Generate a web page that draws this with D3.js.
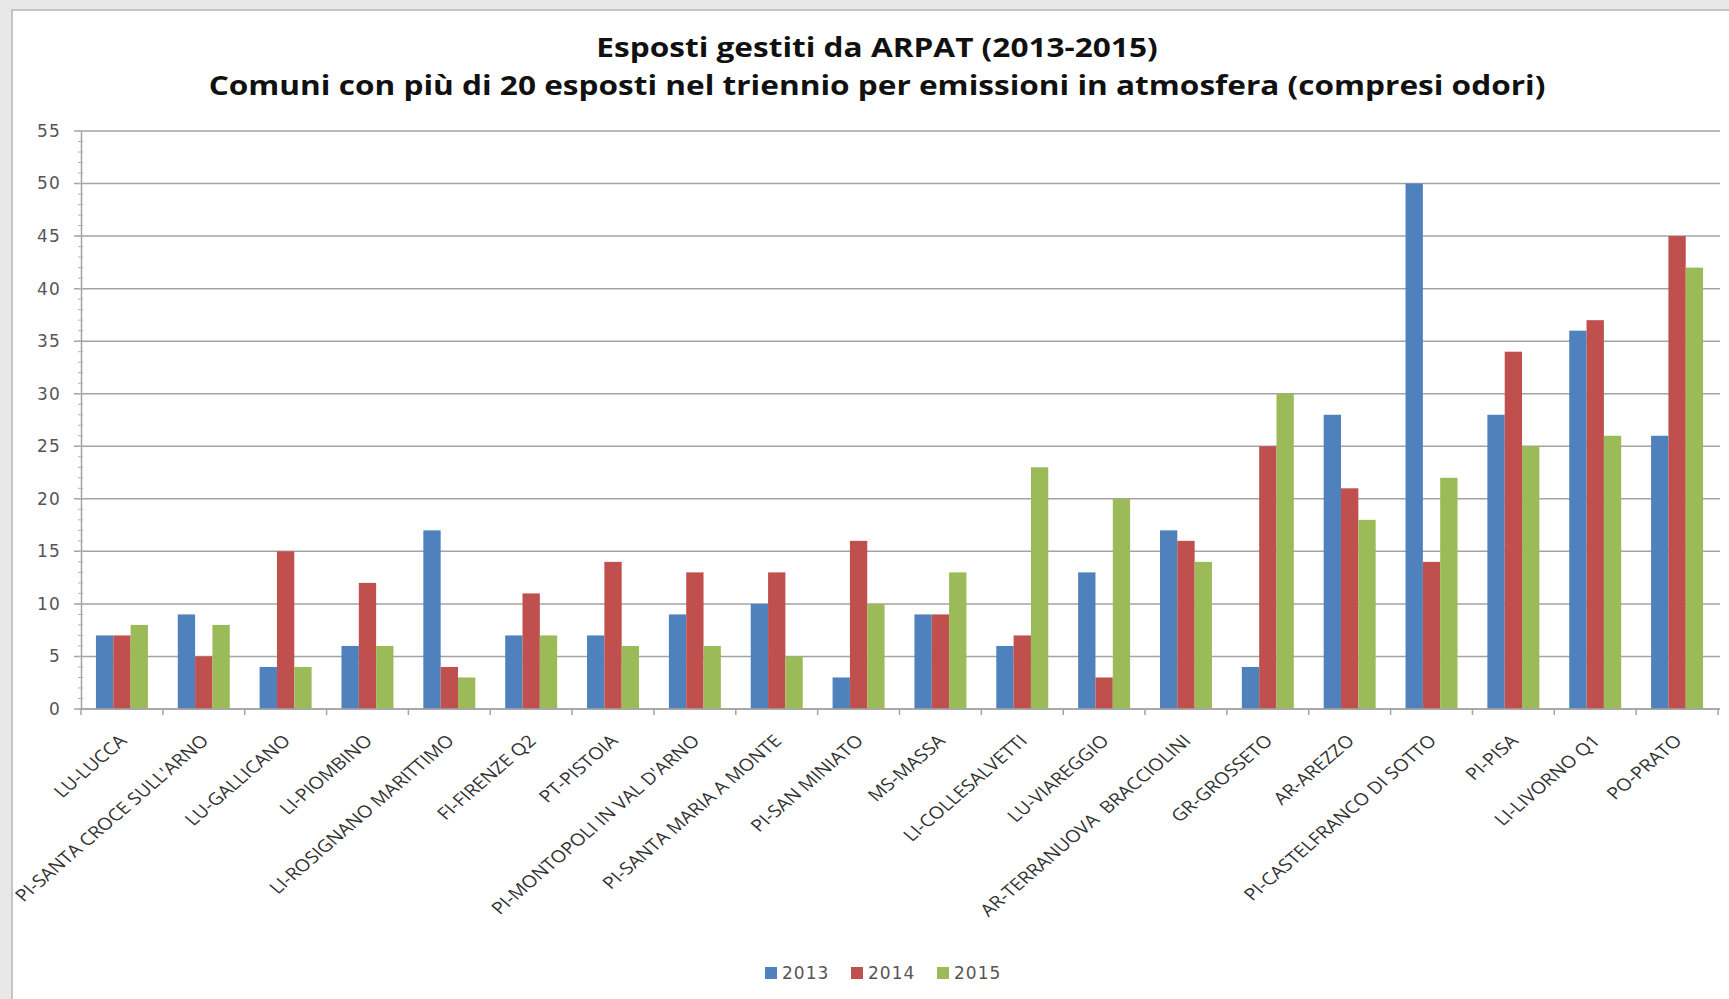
<!DOCTYPE html>
<html>
<head>
<meta charset="utf-8">
<script src="https://cdn.jsdelivr.net/npm/d3@7"></script>
<style>
  html, body { margin: 0; padding: 0; background: #e8e8e8; }
  svg { display: block; }
</style>
</head>
<body>
<svg id="chart"></svg>
<script>
const categories = [
    "LU-LUCCA", "PI-SANTA CROCE SULL'ARNO", "LU-GALLICANO", "LI-PIOMBINO",
    "LI-ROSIGNANO MARITTIMO", "FI-FIRENZE Q2", "PT-PISTOIA", "PI-MONTOPOLI IN VAL D'ARNO",
    "PI-SANTA MARIA A MONTE", "PI-SAN MINIATO", "MS-MASSA", "LI-COLLESALVETTI",
    "LU-VIAREGGIO", "AR-TERRANUOVA  BRACCIOLINI", "GR-GROSSETO", "AR-AREZZO",
    "PI-CASTELFRANCO DI SOTTO", "PI-PISA", "LI-LIVORNO Q1", "PO-PRATO"
];
const years = ["2013", "2014", "2015"];
const values2013 = [7, 9, 4, 6, 17, 7, 7, 9, 10, 3, 9, 6, 13, 17, 4, 28, 50, 28, 36, 26];
const values2014 = [7, 5, 15, 12, 4, 11, 14, 13, 13, 16, 9, 7, 3, 16, 25, 21, 14, 34, 37, 45];
const values2015 = [8, 8, 4, 6, 3, 7, 6, 6, 5, 10, 13, 23, 20, 14, 30, 18, 22, 25, 26, 42];
const yTicks = [0, 5, 10, 15, 20, 25, 30, 35, 40, 45, 50, 55];
const titleLines = [
    "Esposti gestiti da ARPAT (2013-2015)",
    "Comuni con più di 20 esposti nel triennio per emissioni in atmosfera (compresi odori)"
];

const width = 1729;
const height = 999;
const plotLeft = 81, plotRight = 1718, plotTop = 131, plotBottom = 709;
const stretch = 1.16; // the picture is a bit wider than tall
const colors = { "2013": "#4f81bd", "2014": "#c0504d", "2015": "#9bbb59" };
const series = { "2013": values2013, "2014": values2014, "2015": values2015 };

const svg = d3.select("#chart")
    .attr("width", width)
    .attr("height", height);

// white chart panel with light frame
svg.append("rect")
    .attr("x", 12).attr("y", 10)
    .attr("width", width).attr("height", height)
    .attr("fill", "#ffffff")
    .attr("stroke", "#c4c4c4")
    .attr("stroke-width", 2);

svg.selectAll(".title")
    .data(titleLines)
    .enter()
    .append("text")
    .attr("class", "title")
    .attr("transform", (d, i) => `translate(877, ${i === 0 ? 57 : 95}) scale(${stretch + 0.01}, 1)`)
    .attr("text-anchor", "middle")
    .style("font-family", "'Open Sans', sans-serif")
    .style("font-weight", "bold")
    .style("font-size", "27px")
    .style("fill", "#111")
    .text(d => d);

const yScale = d3.scaleLinear()
    .domain([0, 55])
    .range([plotBottom, plotTop]);

const x0 = d3.scaleBand()
    .domain(categories)
    .range([plotLeft, plotRight])
    .paddingInner(0.365)
    .paddingOuter(0.1825);

const x1 = d3.scaleBand()
    .domain(years)
    .range([0, x0.bandwidth()]);

// gridlines
svg.append("g")
    .selectAll("line")
    .data(yTicks)
    .enter()
    .append("line")
    .attr("x1", plotLeft - 7)
    .attr("x2", plotRight + 2)
    .attr("y1", d => yScale(d))
    .attr("y2", d => yScale(d))
    .attr("stroke", "#a3a3a3")
    .attr("stroke-width", 1.5);

// y axis
const yAxis = d3.axisLeft(yScale)
    .tickValues(yTicks)
    .tickSize(0)
    .tickPadding(20);

const yG = svg.append("g")
    .attr("transform", `translate(${plotLeft}, 0)`)
    .call(yAxis);
yG.select(".domain").attr("stroke", "#a3a3a3").attr("stroke-width", 1.5);
yG.selectAll("text")
    .style("font-family", "'DejaVu Sans', sans-serif")
    .style("font-size", "17px")
    .style("letter-spacing", "1.2px")
    .style("fill", "#555");

// minor ticks every unit
svg.append("g")
    .selectAll("line")
    .data(d3.range(0, 56))
    .enter()
    .append("line")
    .attr("x1", plotLeft - 3)
    .attr("x2", plotLeft + 2)
    .attr("y1", d => yScale(d))
    .attr("y2", d => yScale(d))
    .attr("stroke", "#b0b0b0")
    .attr("stroke-width", 1);

// bars
const groups = svg.append("g")
    .selectAll("g")
    .data(categories)
    .enter()
    .append("g")
    .attr("transform", d => `translate(${x0(d)}, 0)`);

groups.selectAll("rect")
    .data((d, i) => years.map(y => ({ year: y, value: series[y][i] })))
    .enter()
    .append("rect")
    .attr("x", d => x1(d.year))
    .attr("y", d => yScale(d.value))
    .attr("width", x1.bandwidth())
    .attr("height", d => plotBottom - yScale(d.value))
    .attr("fill", d => colors[d.year]);

// x axis line and category separators
svg.append("line")
    .attr("x1", plotLeft).attr("x2", plotRight + 2)
    .attr("y1", plotBottom).attr("y2", plotBottom)
    .attr("stroke", "#a3a3a3")
    .attr("stroke-width", 1.5);

const step = x0.step();
svg.append("g")
    .selectAll("line")
    .data(d3.range(0, categories.length + 1))
    .enter()
    .append("line")
    .attr("x1", d => plotLeft + d * step)
    .attr("x2", d => plotLeft + d * step)
    .attr("y1", plotBottom)
    .attr("y2", plotBottom + 6)
    .attr("stroke", "#a3a3a3")
    .attr("stroke-width", 1.5);

// rotated category labels
svg.append("g")
    .selectAll("text")
    .data(categories)
    .enter()
    .append("text")
    .attr("transform", d => `translate(${x0(d) + x0.bandwidth() / 2 + 6}, ${plotBottom + 33}) scale(${stretch}, 1) rotate(-45)`)
    .attr("text-anchor", "end")
    .style("font-family", "'Open Sans', sans-serif")
    .style("font-size", "17px")
    .style("fill", "#333")
    .style("white-space", "pre")
    .text(d => d);

// legend
const legend = svg.append("g")
    .attr("transform", "translate(765, 973)");

const items = legend.selectAll("g")
    .data(years)
    .enter()
    .append("g")
    .attr("transform", (d, i) => `translate(${i * 86}, 0)`);

items.append("rect")
    .attr("x", 0).attr("y", -6)
    .attr("width", 12).attr("height", 12)
    .attr("fill", d => colors[d]);

items.append("text")
    .attr("x", 17)
    .attr("y", 6)
    .style("font-family", "'DejaVu Sans', sans-serif")
    .style("font-size", "17px")
    .style("letter-spacing", "1px")
    .style("fill", "#555")
    .text(d => d);
</script>
</body>
</html>
